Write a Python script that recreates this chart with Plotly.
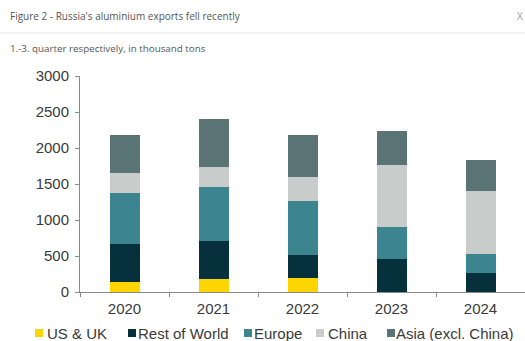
import plotly.graph_objects as go

# Russian aluminium exports, Q1-Q3 of each year, thousand tons
years = ["2020", "2021", "2022", "2023", "2024"]
us_uk = [139, 176, 195, 0, 0]
rest_of_world = [528, 528, 324, 454, 269]
europe = [713, 754, 750, 454, 259]
china = [278, 278, 328, 852, 871]
asia_ex_china = [528, 672, 579, 472, 440]

series_names = ["US & UK", "Rest of World", "Europe", "China", "Asia (excl. China)"]
series_values = [us_uk, rest_of_world, europe, china, asia_ex_china]
series_colors = ["#FDD500", "#07303D", "#3C8590", "#C8CCCB", "#5A7375"]

fig = go.Figure()
for name, vals, col in zip(series_names, series_values, series_colors):
    fig.add_trace(go.Bar(
        x=years, y=vals, name=name, marker=dict(color=col, line=dict(width=0)),
        showlegend=False,
    ))

W, H = 525, 341
ML, MR, MT, MB = 80, 0, 76, 49
PW, PH = W - ML - MR, H - MT - MB


def px_x(x):
    """Pixel column -> paper x (paper spans the plot area)."""
    return (x - ML) / PW


def px_y(y):
    """Pixel row (from top) -> paper y."""
    return (H - MB - y) / PH


tick_font = dict(family="Liberation Sans, Arial, sans-serif", size=15, color="#3a3a3a")
head_font = "Open Sans, sans-serif"

fig.update_layout(
    width=W, height=H,
    margin=dict(l=ML, r=MR, t=MT, b=MB),
    paper_bgcolor="white", plot_bgcolor="white",
    barmode="stack", bargap=0.663,
    xaxis=dict(
        type="category", range=[-0.5, 4.5], showgrid=False,
        showline=True, linecolor="#8a8a8a", linewidth=1,
        ticks="outside", tickson="boundaries", ticklen=4, tickcolor="#8a8a8a",
        tickfont=tick_font, ticklabelstandoff=3, fixedrange=True,
    ),
    yaxis=dict(
        range=[0, 3000], dtick=500, showgrid=False, zeroline=False,
        showline=True, linecolor="#8a8a8a", linewidth=1,
        ticks="outside", ticklen=4, tickcolor="#8a8a8a",
        tickfont=tick_font, ticklabelstandoff=3, fixedrange=True,
    ),
)

# header: title, close mark, separator, subtitle
fig.add_annotation(
    x=px_x(8), y=px_y(16), xref="paper", yref="paper",
    xanchor="left", yanchor="middle", showarrow=False,
    text="Figure 2 - Russia's aluminium exports fell recently",
    font=dict(family=head_font, size=10, color="#555555"),
)
fig.add_annotation(
    x=px_x(520), y=px_y(16), xref="paper", yref="paper",
    xanchor="center", yanchor="middle", showarrow=False,
    text="X", font=dict(family=head_font, size=10, color="#9a9a9a"),
)
fig.add_shape(
    type="line", xref="paper", yref="paper",
    x0=px_x(0), x1=px_x(W), y0=px_y(33), y1=px_y(33),
    line=dict(color="#ececec", width=1.5),
)
fig.add_annotation(
    x=px_x(8), y=px_y(48), xref="paper", yref="paper",
    xanchor="left", yanchor="middle", showarrow=False,
    text="1.-3. quarter respectively, in thousand tons",
    font=dict(family=head_font, size=9.8, color="#555555"),
)

# legend row drawn as swatches + labels
swatch_x = [35, 128, 244, 316, 387]
label_x = [46, 137, 253, 327, 395]
legend_y = 333
for sx, tx, name, col in zip(swatch_x, label_x, series_names, series_colors):
    fig.add_shape(
        type="rect", xref="paper", yref="paper",
        x0=px_x(sx), x1=px_x(sx + 8),
        y0=px_y(legend_y + 4), y1=px_y(legend_y - 4),
        fillcolor=col, line=dict(width=0),
    )
    fig.add_annotation(
        x=px_x(tx), y=px_y(legend_y), xref="paper", yref="paper",
        xanchor="left", yanchor="middle", showarrow=False, text=name,
        font=tick_font, xshift=-1,
    )

fig.write_html("out.html", config={"displayModeBar": False})
